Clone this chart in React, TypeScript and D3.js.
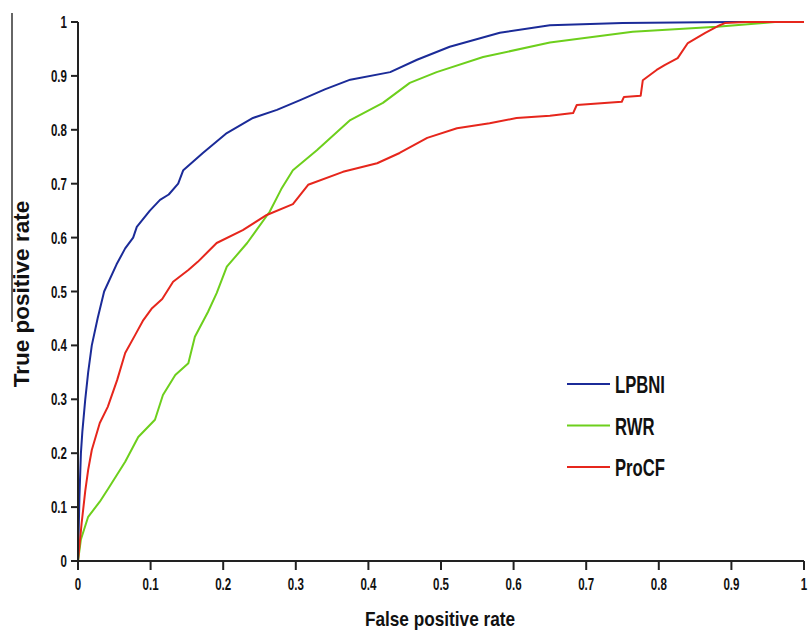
import React from 'react';
import * as d3 from 'd3';

// ROC points: [false positive rate, true positive rate]
const lpbni: [number, number][] = [
  [0, 0], [0.002, 0.12], [0.004, 0.2], [0.006, 0.24], [0.01, 0.3], [0.014, 0.35],
  [0.019, 0.4], [0.027, 0.45], [0.036, 0.5], [0.053, 0.55], [0.065, 0.58], [0.076, 0.6],
  [0.081, 0.62], [0.099, 0.65], [0.113, 0.67], [0.125, 0.68], [0.138, 0.7], [0.145, 0.725],
  [0.172, 0.757], [0.205, 0.794], [0.241, 0.822], [0.274, 0.837], [0.306, 0.855],
  [0.34, 0.875], [0.375, 0.893], [0.43, 0.907], [0.467, 0.93], [0.512, 0.954],
  [0.581, 0.98], [0.65, 0.994], [0.75, 0.998], [0.9, 1], [1, 1],
];

const rwr: [number, number][] = [
  [0, 0], [0.004, 0.04], [0.014, 0.082], [0.03, 0.11], [0.042, 0.135], [0.065, 0.184],
  [0.083, 0.23], [0.106, 0.262], [0.117, 0.308], [0.134, 0.345], [0.152, 0.367],
  [0.161, 0.416], [0.179, 0.462], [0.191, 0.497], [0.205, 0.546], [0.233, 0.59],
  [0.264, 0.648], [0.28, 0.69], [0.296, 0.725], [0.329, 0.762], [0.375, 0.818],
  [0.42, 0.85], [0.457, 0.887], [0.494, 0.907], [0.558, 0.935], [0.65, 0.962],
  [0.764, 0.982], [0.88, 0.991], [0.944, 0.998], [0.96, 1], [1, 1],
];

const procf: [number, number][] = [
  [0, 0], [0.005, 0.07], [0.01, 0.13], [0.014, 0.169], [0.019, 0.206], [0.03, 0.256],
  [0.041, 0.286], [0.054, 0.336], [0.065, 0.386], [0.079, 0.42], [0.09, 0.447],
  [0.102, 0.469], [0.116, 0.486], [0.131, 0.518], [0.152, 0.54], [0.165, 0.555],
  [0.191, 0.59], [0.227, 0.614], [0.26, 0.642], [0.296, 0.662], [0.317, 0.698],
  [0.365, 0.722], [0.412, 0.738], [0.443, 0.757], [0.481, 0.785], [0.522, 0.803],
  [0.567, 0.812], [0.604, 0.822], [0.65, 0.826], [0.682, 0.831], [0.687, 0.846],
  [0.749, 0.852], [0.752, 0.861], [0.775, 0.863], [0.778, 0.892], [0.797, 0.911],
  [0.808, 0.92], [0.826, 0.933], [0.84, 0.961], [0.864, 0.98], [0.884, 0.994],
  [0.891, 0.998], [0.92, 1], [1, 1],
];

const seriesNames = ['LPBNI', 'RWR', 'ProCF'];
const seriesColors = ['#1b2b98', '#6dcf1c', '#e6261c'];
const xTicks = [0, 0.1, 0.2, 0.3, 0.4, 0.5, 0.6, 0.7, 0.8, 0.9, 1];
const yTicks = [0, 0.1, 0.2, 0.3, 0.4, 0.5, 0.6, 0.7, 0.8, 0.9, 1];

const W = 808;
const H = 630;
const font = "'Liberation Sans', Arial, sans-serif";

export default function App() {
  const x = d3.scaleLinear().domain([0, 1]).range([78, 804]);
  const y = d3.scaleLinear().domain([0, 1]).range([561, 22]);
  const line = d3.line<[number, number]>()
    .x(d => x(d[0]))
    .y(d => y(d[1]));
  const series = [lpbni, rwr, procf];
  const fmt = (v: number) => (v === 0 || v === 1 ? String(v) : v.toFixed(1));

  return (
    <svg width={W} height={H} style={{ position: 'absolute', left: 0, top: 0, background: '#fff' }}>
      <rect width={W} height={H} fill="#fff" />

      {/* stray rule left of the y title, as in the source image */}
      <line x1={12} x2={12} y1={13} y2={322} stroke="#333" strokeWidth={1.5} />

      {/* curves */}
      {series.map((s, i) => (
        <path key={seriesNames[i]} d={line(s) || ''} fill="none"
          stroke={seriesColors[i]} strokeWidth={2} strokeLinejoin="round" />
      ))}

      {/* axes */}
      <line x1={x(0)} x2={x(0)} y1={y(1)} y2={y(0)} stroke="#222" strokeWidth={2} />
      <line x1={x(0)} x2={x(1)} y1={y(0)} y2={y(0)} stroke="#222" strokeWidth={2} />
      {xTicks.map(t => (
        <g key={'x' + t}>
          <line x1={x(t)} x2={x(t)} y1={y(0)} y2={y(0) + 9} stroke="#222" strokeWidth={2} />
          <g transform={`translate(${x(t)},590) scale(0.7,1)`}>
            <text textAnchor="middle" fontFamily={font} fontWeight="bold" fontSize={16.5} fill="#111">
              {fmt(t)}
            </text>
          </g>
        </g>
      ))}
      {yTicks.map(t => (
        <g key={'y' + t}>
          <line x1={x(0) - 7} x2={x(0)} y1={y(t)} y2={y(t)} stroke="#222" strokeWidth={2} />
          <g transform={`translate(67,${y(t) + 6}) scale(0.7,1)`}>
            <text textAnchor="end" fontFamily={font} fontWeight="bold" fontSize={16.5} fill="#111">
              {fmt(t)}
            </text>
          </g>
        </g>
      ))}

      {/* axis titles */}
      <g transform="translate(440,626) scale(0.82,1)">
        <text textAnchor="middle" fontFamily={font} fontWeight="bold" fontSize={21} fill="#111">
          False positive rate
        </text>
      </g>
      <text transform="translate(29,294) rotate(-90)" textAnchor="middle" fontFamily={font}
        fontWeight="bold" fontSize={22.5} fill="#111">
        True positive rate
      </text>

      {/* legend */}
      {seriesNames.map((n, i) => {
        const ly = 384 + i * 41.5;
        return (
          <g key={'lg' + n}>
            <line x1={567} x2={610} y1={ly} y2={ly} stroke={seriesColors[i]} strokeWidth={2} />
            <g transform={`translate(615,${ly + 9}) scale(0.68,1)`}>
              <text fontFamily={font} fontWeight="bold" fontSize={24.5} fill="#111">{n}</text>
            </g>
          </g>
        );
      })}
    </svg>
  );
}
